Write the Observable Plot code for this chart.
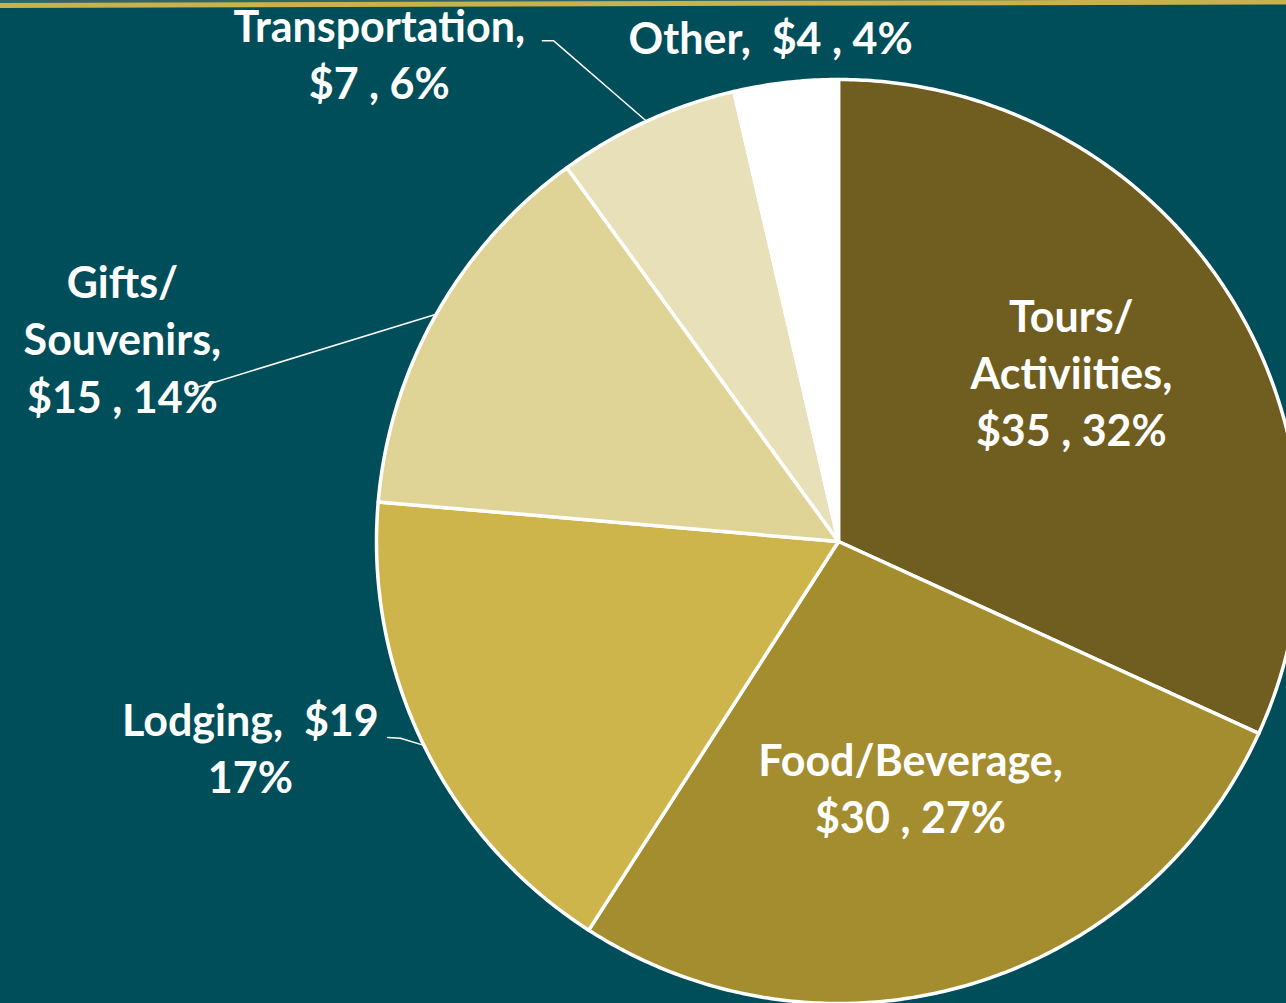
<!DOCTYPE html>
<html><head><meta charset="utf-8">
<script src="https://cdn.jsdelivr.net/npm/d3@7"></script>
<script src="https://cdn.jsdelivr.net/npm/@observablehq/plot@0.6"></script>
<style>
html,body{margin:0;padding:0;background:#004E5A;overflow:hidden}
#wrap{position:relative;width:1286px;height:1003px;overflow:hidden}
#chart{position:absolute;left:0;top:0;z-index:2}
#topline{position:absolute;left:0;top:3px;width:1300px;height:5px;background:#C9B24C;transform-origin:0 0;transform:rotate(-0.16deg);z-index:1}
#topstrip{position:absolute;left:0;top:0;width:1286px;height:3px;background:#2f6664;z-index:1}
</style></head><body><div id="wrap"><div id="topstrip"></div><div id="topline"></div><div id="chart"></div></div>
<script>
// ---- data ----
const categories = ["Tours/Activiities", "Food/Beverage", "Lodging", "Gifts/Souvenirs", "Transportation", "Other"];
const values = [35, 30, 19, 15, 7, 4];
const percents = [32, 27, 17, 14, 6, 4];
const labelTexts = [
  "Tours/\nActiviities,\n$35 , 32%",
  "Food/Beverage,\n$30 , 27%",
  "Lodging,  $19\n17%",
  "Gifts/\nSouvenirs,\n$15 , 14%",
  "Transportation,\n$7 , 6%",
  "Other,  $4 , 4%"
];
const sliceColors = ["#6F5E20", "#A48D2F", "#CDB44B", "#E0D396", "#E8E0B8", "#FFFFFF"];

// ---- layout (in pie-radius units, centre = 0,0) ----
const labelLayout = [
  {x: 0.504, y: 0.206},
  {x: 0.156, y: -0.632},
  {x: -1.273, y: -0.545},
  {x: -1.550, y: 0.279},
  {x: -0.994, y: 0.957},
  {x: -0.147, y: 1.056}
];
const leaderLayout = [
  null, null,
  [{x: -0.976, y: -0.424}, {x: -0.948, y: -0.426}],
  [{x: -1.398, y: 0.331}, {x: -1.366, y: 0.340}],
  [{x: -0.641, y: 1.084}, {x: -0.617, y: 1.084}],
  null
];

// ---- geometry from data ----
const pie = d3.pie().sort(null).value(d => d)(values);
const slicePts = [];
pie.forEach((p, i) => {
  const cat = categories[i];
  slicePts.push({cat, x: 0, y: 0});
  const n = Math.max(2, Math.ceil((p.endAngle - p.startAngle) / (Math.PI / 360)));
  for (let k = 0; k <= n; k++) {
    const a = p.startAngle + (p.endAngle - p.startAngle) * k / n;
    slicePts.push({cat, x: Math.sin(a), y: Math.cos(a)});
  }
  slicePts.push({cat, x: 0, y: 0});
});

const labels = categories.map((c, i) => ({cat: c, text: labelTexts[i], x: labelLayout[i].x, y: labelLayout[i].y}));

const leaderPts = [];
pie.forEach((p, i) => {
  if (!leaderLayout[i]) return;
  const mid = (p.startAngle + p.endAngle) / 2;
  leaderLayout[i].forEach(pt => leaderPts.push({cat: categories[i], x: pt.x, y: pt.y}));
  leaderPts.push({cat: categories[i], x: Math.sin(mid), y: Math.cos(mid)});
});

const W = 1286, H = 1003, R = 462, CX = 838, CY = 541;

const chart = Plot.plot({
  width: W, height: H,
  margin: 0,
  style: {background: "transparent", overflow: "visible"},
  x: {domain: [-CX / R, (W - CX) / R], axis: null},
  y: {domain: [-(H - CY) / R, CY / R], axis: null},
  color: {domain: categories, range: sliceColors},
  marks: [
    Plot.line(slicePts, {x: "x", y: "y", z: "cat", fill: "cat", stroke: "white", strokeWidth: 3.5, strokeLinejoin: "round", curve: "linear"}),
    Plot.line(leaderPts, {x: "x", y: "y", z: "cat", stroke: "white", strokeWidth: 1.5, curve: "linear"}),
    Plot.text(labels, {x: "x", y: "y", text: "text", fill: "white", fontSize: 43, fontWeight: "bold", fontFamily: "Lato", lineAnchor: "bottom", lineHeight: 1.33, textAnchor: "middle"})
  ]
});
document.getElementById("chart").appendChild(chart);
</script>
</body></html>
